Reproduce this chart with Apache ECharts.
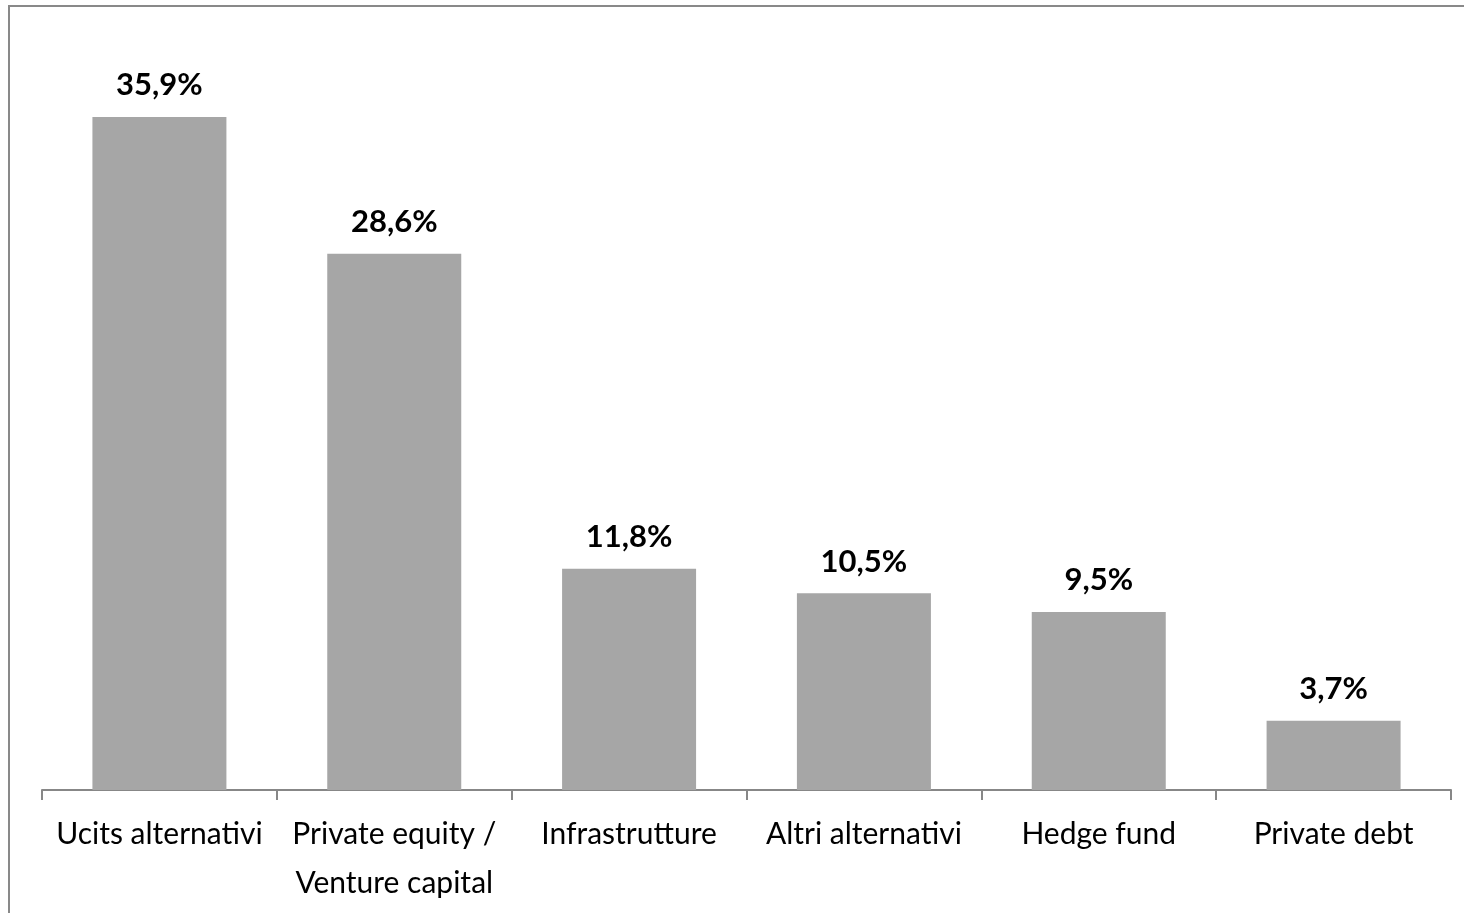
<!DOCTYPE html>
<html>
<head>
<meta charset="utf-8">
<style>
html,body{margin:0;padding:0;background:#fff;}
#chart{width:1464px;height:913px;}
</style>
<script src="https://cdn.jsdelivr.net/npm/echarts@6/dist/echarts.min.js"></script>
</head>
<body>
<div id="chart"></div>
<script>
const categories = ["Ucits alternativi", "Private equity /\nVenture capital", "Infrastrutture", "Altri alternativi", "Hedge fund", "Private debt"];
const values = [35.9, 28.6, 11.8, 10.5, 9.5, 3.7];

const chart = echarts.init(document.getElementById('chart'));
chart.setOption({
  animation: false,
  backgroundColor: '#ffffff',
  graphic: [{
    type: 'rect',
    shape: { x: 9, y: 6, width: 1500, height: 950 },
    style: { fill: 'none', stroke: '#898989', lineWidth: 2 },
    silent: true
  }],
  grid: { left: 42, right: 13, top: 40, bottom: 123 },
  xAxis: {
    type: 'category',
    data: categories,
    axisLine: { lineStyle: { color: '#878787', width: 2 } },
    axisTick: { show: true, length: 10, lineStyle: { color: '#878787', width: 2 } },
    axisLabel: {
      interval: 0,
      margin: 20,
      color: '#000',
      fontFamily: 'Lato',
      fontSize: 30,
      lineHeight: 49
    }
  },
  yAxis: {
    type: 'value',
    min: 0,
    max: 40,
    show: false,
    splitLine: { show: false }
  },
  series: [{
    type: 'bar',
    data: values,
    barWidth: 134,
    itemStyle: { color: '#a6a6a6' },
    label: {
      show: true,
      position: 'top',
      distance: 16,
      color: '#000',
      fontFamily: 'Lato',
      fontWeight: 'bold',
      fontSize: 31,
      formatter: p => p.value.toFixed(1).replace('.', ',') + '%'
    }
  }]
});
</script>
</body>
</html>
